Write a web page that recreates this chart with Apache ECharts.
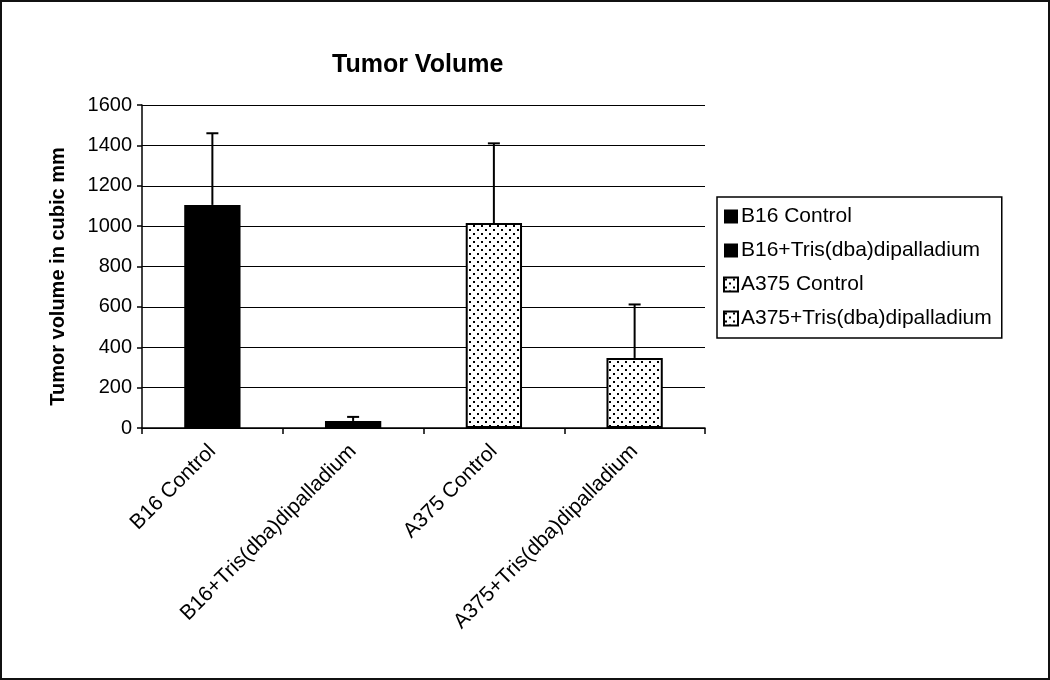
<!DOCTYPE html>
<html>
<head>
<meta charset="utf-8">
<script src="https://cdn.jsdelivr.net/npm/echarts@6/dist/echarts.min.js"></script>
<style>
html,body{margin:0;padding:0;background:#fff;}
#chart{position:absolute;left:0;top:0;width:1050px;height:680px;}
#frame{position:absolute;left:0;top:0;width:1050px;height:680px;box-sizing:border-box;border:2px solid #111;pointer-events:none;}
</style>
</head>
<body>
<div id="chart"></div>
<div id="frame"></div>
<script>
const categories = ['B16 Control', 'B16+Tris(dba)dipalladium', 'A375 Control', 'A375+Tris(dba)dipalladium'];
const means = [1105, 35, 1015, 347];
const upperErr = [1460, 55, 1410, 612];
const yTicks = [0, 200, 400, 600, 800, 1000, 1200, 1400, 1600];

function makeDots() {
  const c = document.createElement('canvas');
  c.width = 8; c.height = 8;
  const g = c.getContext('2d');
  g.fillStyle = '#fff'; g.fillRect(0, 0, 8, 8);
  g.fillStyle = '#000';
  g.fillRect(1, 1, 2, 2);
  g.fillRect(5, 5, 2, 2);
  return c;
}
const dotPattern = { image: makeDots(), repeat: 'repeat' };
const fills = ['#000', '#000', dotPattern, dotPattern];

const FONT = 'Liberation Sans, Arial, sans-serif';
const chart = echarts.init(document.getElementById('chart'));

const barSeries = categories.map((name, i) => ({
  name: name,
  type: 'bar',
  stack: 'all',
  barWidth: '40%',
  data: categories.map((_, j) => (j === i ? means[j] : '-')),
  itemStyle: { color: fills[i], borderColor: '#000', borderWidth: i >= 2 ? 2 : 0 },
  emphasis: { disabled: true }
}));

const errSeries = {
  type: 'custom',
  name: 'err',
  data: categories.map((_, i) => [i, means[i], upperErr[i]]),
  encode: { x: 0, y: [1, 2] },
  z: 5,
  renderItem: function (params, api) {
    const x = api.value(0);
    const lo = api.coord([x, api.value(1)]);
    const hi = api.coord([x, api.value(2)]);
    const half = 6;
    const st = { stroke: '#000', lineWidth: 2 };
    return {
      type: 'group',
      children: [
        { type: 'line', shape: { x1: lo[0], y1: lo[1], x2: hi[0], y2: hi[1] }, style: st },
        { type: 'line', shape: { x1: hi[0] - half, y1: hi[1], x2: hi[0] + half, y2: hi[1] }, style: st }
      ]
    };
  }
};

chart.setOption({
  animation: false,
  backgroundColor: '#fff',
  title: {
    text: 'Tumor Volume',
    left: 332, top: 53, padding: 0,
    textStyle: { fontFamily: FONT, fontSize: 25, fontWeight: 'bold', color: '#000' }
  },
  legend: {
    orient: 'vertical',
    left: 717, top: 197,
    width: 283,
    padding: [9, 10, 9, 6],
    itemGap: 13,
    itemWidth: 14, itemHeight: 14,
    borderColor: '#000', borderWidth: 1.5,
    data: categories,
    icon: 'rect',
    selectedMode: false,
    textStyle: { fontFamily: FONT, fontSize: 21, color: '#000', padding: [0, 0, 0, -2] }
  },
  grid: { left: 142, right: 345, top: 105, bottom: 252, containLabel: false },
  xAxis: {
    type: 'category',
    data: categories,
    boundaryGap: true,
    axisLine: { lineStyle: { color: '#000', width: 1.5 } },
    axisTick: { show: true, alignWithLabel: false, length: 6, lineStyle: { color: '#000', width: 1.5 } },
    axisLabel: { rotate: 45, interval: 0, margin: 20, fontFamily: FONT, fontSize: 21, color: '#000' },
    splitLine: { show: false }
  },
  yAxis: {
    type: 'value',
    min: 0, max: 1600, interval: 200,
    name: 'Tumor volume in cubic mm',
    nameLocation: 'middle',
    nameGap: 74,
    nameTextStyle: { fontFamily: FONT, fontSize: 20, fontWeight: 'bold', color: '#000', padding: [0, 20, 0, 0] },
    axisLine: { show: true, lineStyle: { color: '#000', width: 1.5 } },
    axisTick: { show: true, length: 5, lineStyle: { color: '#000', width: 1.5 } },
    axisLabel: {
      margin: 10, fontFamily: FONT, fontSize: 20, color: '#000',
      formatter: v => (yTicks.indexOf(v) >= 0 ? String(v) : '')
    },
    splitLine: { show: true, lineStyle: { color: '#000', width: 1.2 } }
  },
  series: [...barSeries, errSeries]
});
</script>
</body>
</html>
